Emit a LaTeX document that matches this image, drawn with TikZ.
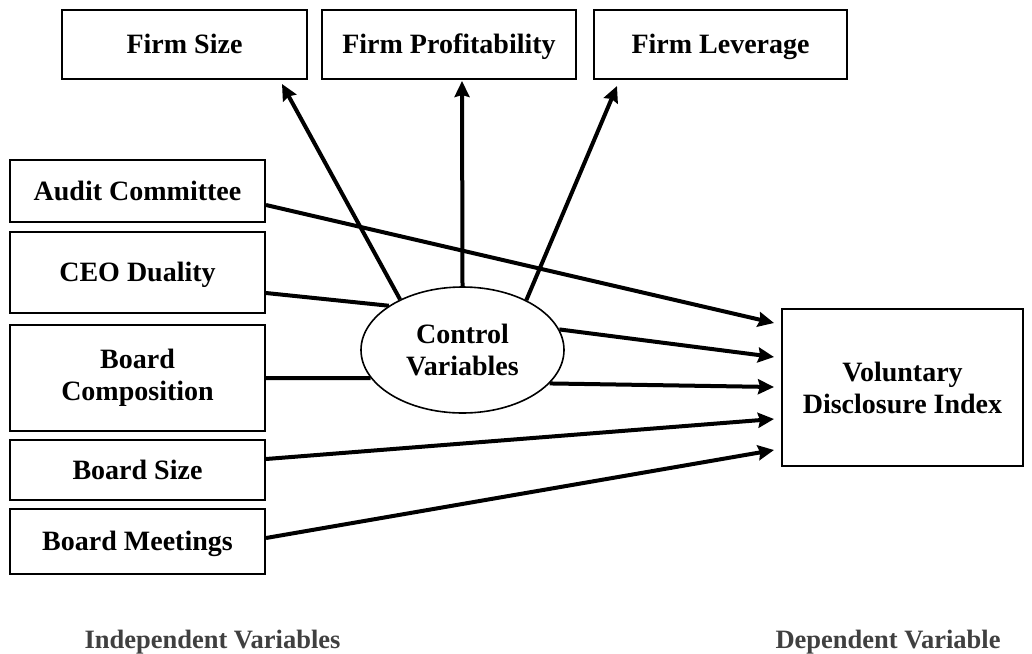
\documentclass[tikz,border=0pt]{standalone}
\usepackage{fontspec}
\setmainfont{Liberation Serif}
\usetikzlibrary{arrows.meta,shapes.geometric}
\begin{document}
\begin{tikzpicture}[x=1pt,y=-1pt,
  box/.style={draw,line width=2pt,rectangle,minimum width=#1,inner sep=0pt,align=center,font=\fontsize{28}{32}\selectfont\bfseries},
  box/.default=255pt,
  one/.style={text height=18.5pt,text depth=0pt},
  oval/.style={draw,line width=1.6pt,ellipse,minimum width=203pt,minimum height=126pt,inner sep=0pt,align=center,font=\fontsize{28}{32}\selectfont\bfseries},
  conn/.style={line width=4pt},
  arr/.style={line width=4pt,-{Stealth[length=16pt,width=15pt,inset=2pt]}},
  captxt/.style={font=\fontsize{26.5}{32}\selectfont\bfseries,text=black!75,anchor=base}
]
\useasboundingbox (0,0) rectangle (1032,653);
\fill[white] (0,0) rectangle (1032,653);
% top boxes
\node[box=245pt,one,minimum height=69pt] (fs) at (184.5,44.5) {Firm Size};
\node[box=254pt,one,minimum height=69pt] (fp) at (449,44.5) {Firm Profitability};
\node[box=253pt,one,minimum height=69pt] (fl) at (720.5,44.5) {Firm Leverage};
% left boxes
\node[box,one,minimum height=62pt] (ac) at (137.5,191) {Audit Committee};
\node[box,minimum height=81pt,text height=18.5pt,text depth=0pt] (ceo) at (137.5,272.5) {CEO Duality};
\node[box,minimum height=106pt] (bc) at (137.5,378) {Board\\Composition};
\node[box,one,minimum height=60pt] (bs) at (137.5,470) {Board Size};
\node[box,one,minimum height=65pt] (bm) at (137.5,541.5) {Board Meetings};
% control ellipse
\node[oval] (cv) at (462.5,350) {Control\\Variables};
% dependent box
\node[box=241pt,minimum height=157pt] (vdi) at (902.5,387.5) {Voluntary\\Disclosure Index};
% captions
\node[captxt] (iv) at (212.5,648) {Independent Variables};
\node[captxt] (dv) at (888,648) {Dependent Variable};
% target points
\coordinate (tfs) at ([xshift=97.5pt,yshift=-4pt]fs.south);
\coordinate (tfp) at ([xshift=13pt,yshift=-1pt]fp.south);
\coordinate (tfl) at ([xshift=-103.5pt,yshift=-6pt]fl.south);
\coordinate (v1) at ([xshift=-7pt,yshift=64.5pt]vdi.west);
\coordinate (v2) at ([xshift=-7pt,yshift=30.5pt]vdi.west);
\coordinate (v3) at ([xshift=-7pt,yshift=0.5pt]vdi.west);
\coordinate (v4) at ([xshift=-7pt,yshift=-31.5pt]vdi.west);
\coordinate (v5) at ([xshift=-7pt,yshift=-62.5pt]vdi.west);
% connectors
\draw[arr] (cv.141) -- (tfs);
\draw[arr] (cv.90) -- (tfp);
\draw[arr] (cv.38) -- (tfl);
\draw[arr] ([yshift=-14pt]ac.east) -- (v1);
\draw[conn] ([yshift=-20.5pt]ceo.east) -- (cv.149);
\draw[arr] (cv.12) -- (v2);
\draw[arr] (cv.-21) -- (v3);
\draw[conn] (bc.east) -- (cv.197);
\draw[arr] ([yshift=11pt]bs.east) -- (v4);
\draw[arr] ([yshift=3.5pt]bm.east) -- (v5);
\end{tikzpicture}
\end{document}
